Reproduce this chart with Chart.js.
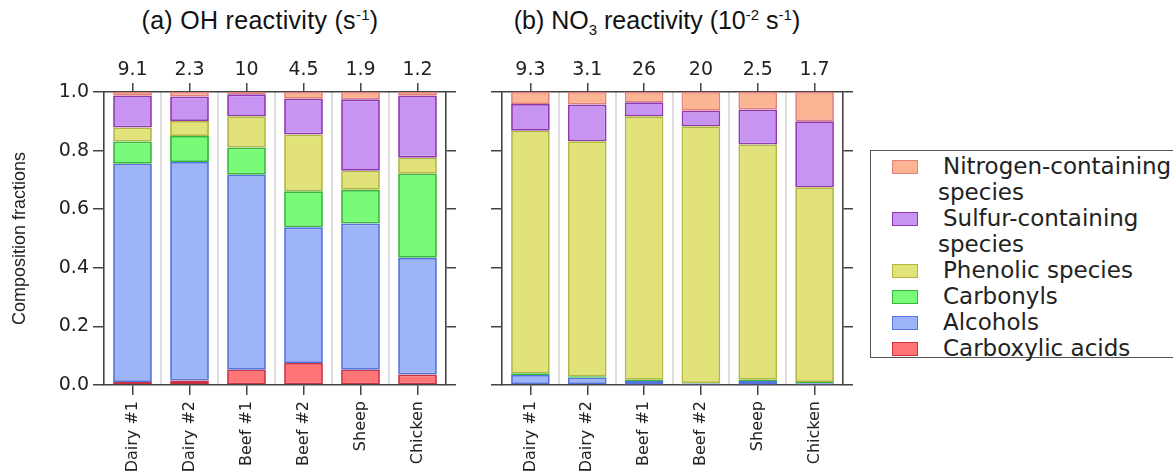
<!DOCTYPE html>
<html>
<head>
<meta charset="utf-8">
<script src="https://cdn.jsdelivr.net/npm/chart.js@4.4.0/dist/chart.umd.min.js"></script>
<style>
  body { margin: 0; background: #fff; }
  #wrap { position: relative; width: 1173px; height: 471px; overflow: hidden; }
  canvas { position: absolute; top: 0; }
  .title { position: absolute; top: 6px; font-family: "Liberation Sans", sans-serif; font-size: 25px; color: #111; white-space: nowrap; transform: translateX(-50%); }
  .title sup, .title sub { font-size: 15px; }
  #legend { position: absolute; left: 870px; top: 150px; width: 330px; height: 208px; border: 1.5px solid #555; box-sizing: border-box; font-family: "DejaVu Sans", Verdana, sans-serif; font-size: 23px; color: #222; padding-top: 2px; }
  .item { position: relative; padding-left: 72px; line-height: 26px; }
  .sw { position: absolute; left: 21px; top: 7px; width: 24px; height: 12px; border: 1px solid; }
</style>
</head>
<body>
<div id="wrap">
  <div class="title" style="left:260px; letter-spacing:0.3px">(a) OH reactivity (s<sup>-1</sup>)</div>
  <div class="title" style="left:657px">(b) NO<sub>3</sub> reactivity (10<sup>-2</sup> s<sup>-1</sup>)</div>
  <canvas id="chartA" width="460" height="471" style="left:0px"></canvas>
  <canvas id="chartB" width="380" height="471" style="left:480px"></canvas>
  <div id="legend"></div>
</div>
<script>
// samples and total reactivities shown on top
const categories = ['Dairy #1', 'Dairy #2', 'Beef #1', 'Beef #2', 'Sheep', 'Chicken'];
const ohTotals = ['9.1', '2.3', '10', '4.5', '1.9', '1.2'];
const no3Totals = ['9.3', '3.1', '26', '20', '2.5', '1.7'];

// species (bottom to top of stack)
const species = ['Carboxylic acids', 'Alcohols', 'Carbonyls', 'Phenolic species', 'Sulfur-containing species', 'Nitrogen-containing species'];
const fillColors = ['#ff7474', '#9db5f8', '#79fb79', '#e1e27a', '#c894f2', '#fbb592'];
const lineColors = ['#c83244', '#5573dc', '#36b83a', '#b0b840', '#9038b0', '#e3807a'];

// (a) OH reactivity composition fractions
const acidsOH     = [0.010, 0.015, 0.052, 0.075, 0.052, 0.036];
const alcoholsOH  = [0.745, 0.746, 0.666, 0.463, 0.499, 0.398];
const carbonylsOH = [0.076, 0.089, 0.093, 0.123, 0.115, 0.287];
const phenolicOH  = [0.048, 0.051, 0.106, 0.194, 0.065, 0.055];
const sulfurOH    = [0.108, 0.084, 0.075, 0.122, 0.244, 0.211];
const nitrogenOH  = [0.013, 0.015, 0.008, 0.023, 0.025, 0.013];

// (b) NO3 reactivity composition fractions
const acidsNO3     = [0.003, 0.003, 0.002, 0.002, 0.002, 0.002];
const alcoholsNO3  = [0.031, 0.022, 0.012, 0.003, 0.012, 0.004];
const carbonylsNO3 = [0.006, 0.005, 0.004, 0.002, 0.004, 0.004];
const phenolicNO3  = [0.828, 0.802, 0.899, 0.876, 0.803, 0.665];
const sulfurNO3    = [0.091, 0.125, 0.048, 0.053, 0.119, 0.225];
const nitrogenNO3  = [0.041, 0.043, 0.035, 0.064, 0.060, 0.100];

const yTicks = [0, 0.2, 0.4, 0.6, 0.8, 1.0];

const axisColor = '#444';
const numFamily = '"DejaVu Sans", Verdana, sans-serif';

function buildDatasets(series) {
    return series.map((vals, i) => ({
        label: species[i],
        data: vals,
        backgroundColor: fillColors[i],
        borderColor: lineColors[i],
        borderWidth: 1.8,
        borderSkipped: false,
        categoryPercentage: 1.0,
        barPercentage: 0.68
    }));
}

function makeChart(id, series, totals, showY, yWidth, rightPad) {
    const fixW = w => (scale => { scale.width = w; });
    const fixH = h => (scale => { scale.height = h; });
    return new Chart(document.getElementById(id).getContext('2d'), {
        type: 'bar',
        data: { labels: categories, datasets: buildDatasets(series) },
        options: {
            responsive: false,
            animation: false,
            layout: { padding: { left: 0, right: rightPad, top: 0, bottom: 0 } },
            plugins: { legend: { display: false }, tooltip: { enabled: false } },
            scales: {
                x: {
                    stacked: true,
                    position: 'bottom',
                    grid: { offset: false, drawOnChartArea: false, drawTicks: true, tickLength: 10, color: axisColor, lineWidth: 1.5 },
                    border: { display: true, color: axisColor, width: 1.5 },
                    ticks: { color: '#222', font: { family: numFamily, size: 16 }, minRotation: 90, maxRotation: 90, padding: 6 },
                    afterFit: fixH(86)
                },
                xs: {
                    type: 'category',
                    position: 'bottom',
                    labels: categories,
                    grid: { offset: true, drawOnChartArea: true, drawTicks: false, color: '#dcdcdc', lineWidth: 2 },
                    border: { display: false },
                    ticks: { display: false },
                    afterFit: fixH(0)
                },
                x2: {
                    type: 'category',
                    position: 'top',
                    labels: totals,
                    grid: { offset: false, drawOnChartArea: false, drawTicks: true, tickLength: 9, color: axisColor, lineWidth: 1.5 },
                    border: { display: true, color: axisColor, width: 1.5 },
                    ticks: { color: '#222', font: { family: numFamily, size: 19 }, padding: 2, maxRotation: 0 },
                    afterFit: fixH(92)
                },
                y: {
                    stacked: true,
                    min: 0,
                    max: 1,
                    afterBuildTicks: scale => { scale.ticks = yTicks.map(v => ({ value: v })); },
                    grid: { drawOnChartArea: false, drawTicks: true, tickLength: 11, color: axisColor, lineWidth: 1.5 },
                    border: { display: true, color: axisColor, width: 1.5 },
                    ticks: { display: showY, color: '#222', font: { family: numFamily, size: 19 }, padding: 4, callback: v => Number(v).toFixed(1) },
                    title: {
                        display: showY,
                        text: 'Composition fractions',
                        color: '#222',
                        font: { family: '"Liberation Sans", sans-serif', size: 18 },
                        padding: { top: 9, bottom: 0 }
                    },
                    afterFit: fixW(yWidth)
                },
                y2: {
                    position: 'right',
                    min: 0,
                    max: 1,
                    afterBuildTicks: scale => { scale.ticks = yTicks.map(v => ({ value: v })); },
                    grid: { drawOnChartArea: false, drawTicks: true, tickLength: 10, color: axisColor, lineWidth: 1.5 },
                    border: { display: true, color: axisColor, width: 1.5 },
                    ticks: { display: false },
                    afterFit: fixW(10)
                }
            }
        }
    });
}

makeChart('chartA', [acidsOH, alcoholsOH, carbonylsOH, phenolicOH, sulfurOH, nitrogenOH], ohTotals, true, 104, 4);
makeChart('chartB', [acidsNO3, alcoholsNO3, carbonylsNO3, phenolicNO3, sulfurNO3, nitrogenNO3], no3Totals, false, 22, 7);

// legend, top of the stack first
const legendLines = {
    'Nitrogen-containing species': ['Nitrogen-containing', 'species'],
    'Sulfur-containing species': ['Sulfur-containing', 'species']
};
const legend = document.getElementById('legend');
for (let i = species.length - 1; i >= 0; i--) {
    const item = document.createElement('div');
    item.className = 'item';
    const sw = document.createElement('span');
    sw.className = 'sw';
    sw.style.background = fillColors[i];
    sw.style.borderColor = lineColors[i];
    item.appendChild(sw);
    const lines = legendLines[species[i]] || [species[i]];
    lines.forEach((t, k) => {
        const d = document.createElement('div');
        d.textContent = t;
        if (k > 0) d.style.marginLeft = '-5px';
        item.appendChild(d);
    });
    legend.appendChild(item);
}
</script>
</body>
</html>
